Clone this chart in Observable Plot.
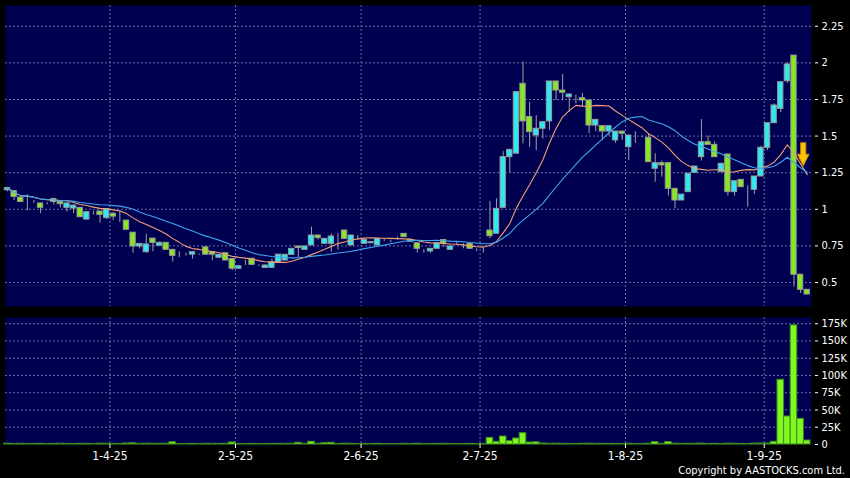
<!DOCTYPE html>
<html><head><meta charset="utf-8">
<script src="https://cdn.jsdelivr.net/npm/d3@7"></script>
<script src="https://cdn.jsdelivr.net/npm/@observablehq/plot@0.6"></script>
<style>
html,body{margin:0;padding:0;background:#000;}
#wrap{position:relative;width:850px;height:478px;background:#000;overflow:hidden;font-family:"DejaVu Sans Condensed","DejaVu Sans",sans-serif;}
#price{position:absolute;left:0;top:0;}
#vol{position:absolute;left:0;top:310px;}
#copy{position:absolute;right:5px;top:465px;color:#fff;font-size:11px;line-height:12px;font-family:"DejaVu Sans Condensed","DejaVu Sans",sans-serif;}
</style></head><body>
<div id="wrap"><div id="price"></div><div id="vol"></div><div id="copy">Copyright by AASTOCKS.com Ltd.</div></div>
<script>
// ---- data (one entry per trading session, index 0..121) ----
const opens = [1.13,1.125,1.08,1.08,1.05,1.04,1.04,1.07,1.05,1.01,
1.005,1.01,0.93,0.973,0.985,0.94,0.97,0.97,0.923,0.84,
0.746,0.707,0.8,0.751,0.771,0.723,0.696,0.696,0.69,0.69,
0.74,0.707,0.669,0.70,0.66,0.594,0.645,0.662,0.616,0.60,
0.60,0.64,0.65,0.689,0.746,0.723,0.753,0.821,0.764,0.764,
0.83,0.855,0.753,0.809,0.764,0.768,0.753,0.79,0.787,0.80,
0.832,0.79,0.768,0.71,0.712,0.73,0.79,0.723,0.77,0.76,
0.764,0.728,0.712,0.855,0.833,1.01,1.356,1.38,1.857,1.63,
1.504,1.55,1.60,1.873,1.811,1.766,1.765,1.759,1.743,1.572,
1.568,1.531,1.47,1.531,1.424,1.504,1.495,1.488,1.277,1.315,
1.315,1.14,1.06,1.117,1.249,1.356,1.458,1.44,1.254,1.374,
1.117,1.201,1.151,1.133,1.224,1.42,1.588,1.686,1.875,2.05,
0.553,0.45];
const highs = [1.15,1.125,1.085,1.10,1.06,1.04,1.045,1.075,1.055,1.045,
1.03,1.01,0.98,0.985,0.985,1.0,0.975,0.99,0.923,0.84,
0.764,0.83,0.8,0.775,0.771,0.723,0.71,0.70,0.71,0.695,
0.745,0.71,0.69,0.70,0.662,0.615,0.65,0.662,0.62,0.62,
0.66,0.69,0.69,0.73,0.746,0.746,0.878,0.821,0.80,0.832,
0.835,0.855,0.821,0.82,0.79,0.78,0.80,0.80,0.79,0.81,
0.835,0.795,0.768,0.725,0.73,0.768,0.79,0.746,0.78,0.765,
0.77,0.73,0.74,1.053,1.072,1.394,1.41,1.80,2.005,1.73,
1.64,1.60,1.873,1.873,1.92,1.784,1.78,1.79,1.743,1.611,
1.568,1.568,1.531,1.531,1.504,1.53,1.50,1.51,1.38,1.33,
1.315,1.14,1.10,1.243,1.292,1.613,1.50,1.46,1.311,1.374,
1.192,1.201,1.16,1.224,1.43,1.588,1.72,1.87,2.0,2.05,
0.553,0.45];
const lows = [1.12,1.06,1.045,0.99,1.04,0.97,1.03,1.03,1.01,0.98,
0.97,0.945,0.925,0.96,0.905,0.93,0.923,0.91,0.86,0.70,
0.73,0.70,0.71,0.75,0.72,0.64,0.67,0.68,0.66,0.685,
0.69,0.65,0.665,0.65,0.582,0.59,0.616,0.615,0.61,0.598,
0.60,0.64,0.65,0.689,0.67,0.72,0.753,0.79,0.76,0.707,
0.72,0.798,0.75,0.79,0.76,0.765,0.75,0.78,0.77,0.79,
0.809,0.775,0.70,0.70,0.70,0.73,0.74,0.72,0.755,0.73,
0.73,0.71,0.70,0.80,0.833,1.01,1.247,1.38,1.447,1.424,
1.40,1.48,1.54,1.743,1.74,1.663,1.72,1.70,1.516,1.53,
1.47,1.50,1.45,1.47,1.333,1.45,1.49,1.32,1.185,1.22,
1.09,1.003,1.06,1.117,1.249,1.33,1.44,1.356,1.254,1.09,
1.09,1.151,1.014,1.10,1.224,1.40,1.588,1.66,1.86,0.468,
0.425,0.415];
const closes = [1.145,1.085,1.05,1.08,1.05,1.01,1.04,1.05,1.035,1.04,
1.025,0.946,0.98,0.973,0.962,1.0,0.95,0.97,0.86,0.746,
0.764,0.76,0.77,0.771,0.723,0.682,0.696,0.696,0.707,0.69,
0.69,0.69,0.689,0.65,0.594,0.611,0.645,0.621,0.616,0.616,
0.639,0.69,0.689,0.73,0.736,0.746,0.821,0.803,0.798,0.814,
0.83,0.798,0.821,0.809,0.79,0.776,0.798,0.79,0.787,0.80,
0.81,0.778,0.73,0.71,0.73,0.768,0.765,0.746,0.77,0.76,
0.73,0.728,0.712,0.816,1.003,1.356,1.406,1.80,1.60,1.527,
1.55,1.595,1.873,1.811,1.796,1.784,1.765,1.743,1.572,1.611,
1.531,1.568,1.531,1.516,1.504,1.504,1.495,1.322,1.315,1.30,
1.14,1.06,1.10,1.243,1.292,1.458,1.44,1.356,1.311,1.117,
1.192,1.151,1.151,1.224,1.42,1.588,1.709,1.868,1.989,0.553,
0.45,0.418];
// volume in thousands of shares
const volumesK = [1.2,0.8,1.0,0.6,0.8,1.0,0.5,0.9,1.1,0.8,
0.7,1.0,0.9,0.5,1.2,1.0,0.9,0.6,1.5,1.8,
0.8,1.2,1.0,0.9,1.1,3.3,0.6,0.5,0.9,0.5,
1.0,0.9,0.8,1.1,3.0,0.8,0.5,0.9,0.5,0.7,
0.8,1.0,0.9,1.1,2.5,1.0,4.0,1.2,2.0,2.5,
0.6,1.2,1.0,0.5,0.8,0.6,1.0,0.5,0.6,0.5,
1.0,0.6,1.2,0.5,0.7,0.9,1.0,0.8,0.5,0.5,
0.9,0.6,0.7,9.7,3.9,11.6,4.8,8.7,16.4,2.9,
3.2,1.5,1.0,1.2,1.0,0.8,0.6,1.0,1.2,0.9,
1.0,0.8,0.9,0.7,1.1,0.6,0.5,1.2,3.5,0.9,
3.5,1.2,0.8,1.0,0.9,1.4,0.8,1.0,0.6,1.2,
1.0,0.8,0.6,1.3,1.4,1.5,4.0,93.8,40.6,172.6,
37.2,5.8];
// axis ticks
const dateTickPos = [15.5, 34.5, 53.5, 71.5, 93.5, 114.5];
const dateTickLabels = ["1-4-25", "2-5-25", "2-6-25", "2-7-25", "1-8-25", "1-9-25"];
const priceTicks = [0.5, 0.75, 1, 1.25, 1.5, 1.75, 2, 2.25];
const volumeTicks = [0, 25000, 50000, 75000, 100000, 125000, 150000, 175000];
// annotation arrow (index, price)
const arrowIdx = [120.4];
const arrowPrice = [1.376];

const rows = opens.map((o, i) => ({i, open: o, high: highs[i], low: lows[i], close: closes[i], volume: volumesK[i] * 1000}));
const arrows = arrowIdx.map((x, k) => ({i: x, price: arrowPrice[k]}));

const NAVY = "#000050";
const GRID = "#6a6aa6";
const UP = "#2fe9f2";
const DOWN = "#86e823";
const EDGE = "#9a9a9a";
const FONT = "'DejaVu Sans Condensed','DejaVu Sans',sans-serif";
const xDomain = [-0.303, 121.65];

const downArrow = {
  draw(ctx, size) {
    const s = Math.sqrt(size) / 2;
    ctx.moveTo(-0.22 * s, -s);
    ctx.lineTo(0.22 * s, -s);
    ctx.lineTo(0.22 * s, 0);
    ctx.lineTo(0.5 * s, 0);
    ctx.lineTo(0, s);
    ctx.lineTo(-0.5 * s, 0);
    ctx.lineTo(-0.22 * s, 0);
    ctx.closePath();
  }
};

const price = Plot.plot({
  width: 850, height: 310,
  marginLeft: 5, marginRight: 39, marginTop: 5, marginBottom: 4,
  style: {background: "transparent", color: "#fff", fontFamily: FONT, fontSize: "11px"},
  x: {domain: xDomain, axis: null},
  y: {domain: [0.336, 2.392], axis: null},
  marks: [
    Plot.frame({fill: NAVY, stroke: null}),
    Plot.gridY(priceTicks, {stroke: GRID, strokeOpacity: 1, strokeDasharray: "2,2"}),
    Plot.gridX(dateTickPos, {stroke: GRID, strokeOpacity: 1, strokeDasharray: "2,2"}),
    Plot.ruleX(rows, {x: "i", y1: "low", y2: "high", stroke: "#a0a0a0", strokeWidth: 1}),
    Plot.rect(rows, {
      x1: d => d.i - 0.4, x2: d => d.i + 0.4, y1: "open", y2: "close",
      fill: d => d.close > d.open ? UP : d.close < d.open ? DOWN : "none",
      stroke: EDGE, strokeWidth: 1
    }),
    Plot.lineY(rows, Plot.windowY({k: 10, anchor: "end", strict: false}, {x: "i", y: "close", stroke: "#f0a074", strokeWidth: 1.1})),
    Plot.lineY(rows, Plot.windowY({k: 20, anchor: "end", strict: false}, {x: "i", y: "close", stroke: "#3ea6ee", strokeWidth: 1.1})),
    Plot.dot(arrows, {x: "i", y: "price", symbol: downArrow, r: 13, fill: "#f8c40a", stroke: "#d88a00", strokeWidth: 1}),
    Plot.axisY(priceTicks, {anchor: "right", label: null, tickSize: 3, dx: 3, tickPadding: 4, tickFormat: d => String(d), stroke: "#fff", fill: "#fff", fontSize: 11})
  ]
});
document.getElementById("price").append(price);

const vol = Plot.plot({
  width: 850, height: 168,
  marginLeft: 5, marginRight: 39, marginTop: 7, marginBottom: 34,
  style: {background: "transparent", color: "#fff", fontFamily: FONT, fontSize: "11px"},
  x: {domain: xDomain, axis: null},
  y: {domain: [0, 184000], axis: null},
  marks: [
    Plot.frame({fill: NAVY, stroke: null}),
    Plot.gridY(volumeTicks.filter(v => v > 0), {stroke: GRID, strokeOpacity: 1, strokeDasharray: "2,2"}),
    Plot.gridX(dateTickPos, {stroke: GRID, strokeOpacity: 1, strokeDasharray: "2,2"}),
    Plot.rect(rows, {x1: d => d.i - 0.5, x2: d => d.i + 0.5, y1: 0, y2: "volume", fill: "#7ef81e", stroke: "#3f8a1c", strokeWidth: 1}),
    Plot.axisY(volumeTicks, {anchor: "right", label: null, tickSize: 3, dx: 3, tickPadding: 4, tickFormat: d => d === 0 ? "0" : (d / 1000) + "K", stroke: "#fff", fill: "#fff", fontSize: 11}),
    Plot.axisX(dateTickPos, {anchor: "bottom", label: null, tickSize: 4, tickPadding: 3, tickFormat: d => dateTickLabels[dateTickPos.indexOf(d)], stroke: "#fff", fill: "#fff", fontSize: 12})
  ]
});
document.getElementById("vol").append(vol);
</script>
</body></html>
